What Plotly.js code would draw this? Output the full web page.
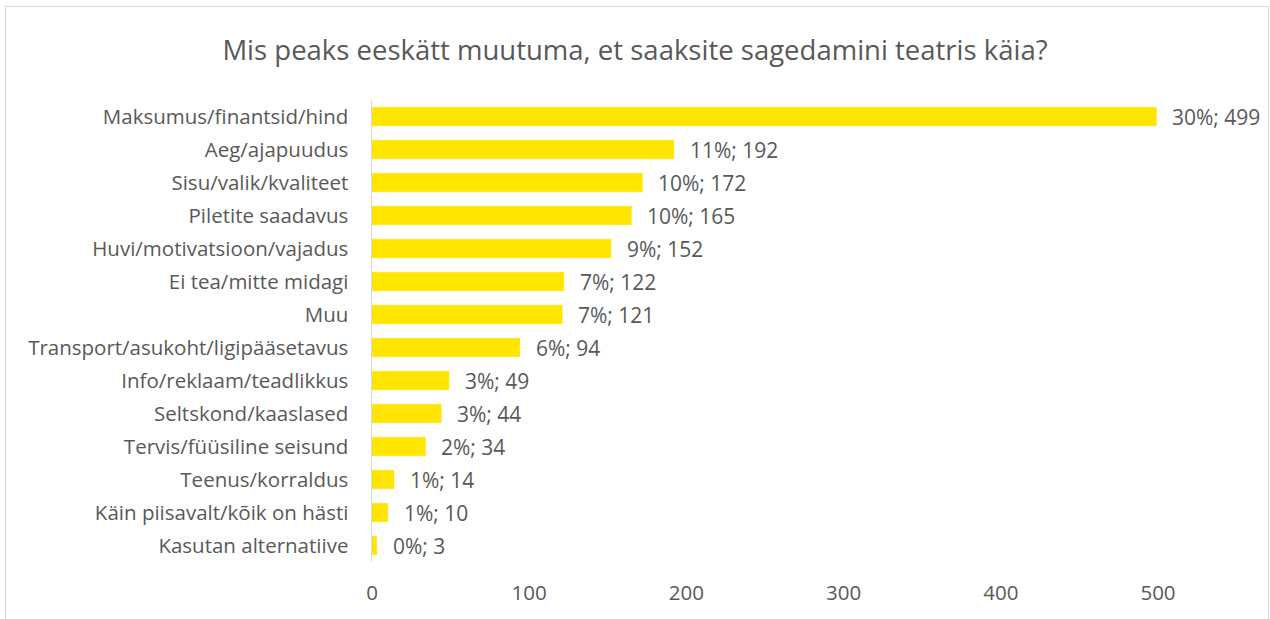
<!DOCTYPE html>
<html><head><meta charset="utf-8">
<script src="https://cdn.plot.ly/plotly-3.0.1.min.js"></script>
<style>
html,body{margin:0;padding:0;background:#fff;overflow:hidden;}
#wrap{position:relative;width:1270px;height:619px;}
#chart{width:1270px;height:619px;}
#frame{position:absolute;left:5px;top:6px;width:1262px;height:640px;border:1.5px solid #d9d9d9;pointer-events:none;}
</style></head>
<body>
<div id="wrap"><div id="chart"></div><div id="frame"></div></div>
<script>
const categories = ["Maksumus/finantsid/hind","Aeg/ajapuudus","Sisu/valik/kvaliteet","Piletite saadavus","Huvi/motivatsioon/vajadus","Ei tea/mitte midagi","Muu","Transport/asukoht/ligipääsetavus","Info/reklaam/teadlikkus","Seltskond/kaaslased","Tervis/füüsiline seisund","Teenus/korraldus","Käin piisavalt/kõik on hästi","Kasutan alternatiive"];
const values = [499,192,172,165,152,122,121,94,49,44,34,14,10,3];
const percents = ["30%","11%","10%","10%","9%","7%","7%","6%","3%","3%","2%","1%","1%","0%"];
const xTicks = [0,100,200,300,400,500];

const labels = values.map((v,i)=>percents[i]+"; "+v);
const gray = "#595959";
const fontFam = "Open Sans, sans-serif";

const trace = {
  type:"bar", orientation:"h",
  x: values, y: categories,
  marker:{color:"#FFE600", line:{color:"#FFE000", width:0.5}},
  hoverinfo:"none"
};
const annotations = values.map((v,i)=>({
  x:v, y:categories[i], xref:"x", yref:"y", text:labels[i], showarrow:false,
  xanchor:"left", xshift:14, font:{family:fontFam,size:21,color:gray}
}));
const layout = {
  width:1270, height:619,
  margin:{l:372, r:112, t:100, b:57},
  paper_bgcolor:"#fff", plot_bgcolor:"#fff",
  bargap:0.44,
  showlegend:false,
  title:{text:"Mis peaks eeskätt muutuma, et saaksite sagedamini teatris käia?",
    font:{family:fontFam,size:27.5,color:gray}, x:0.5, xanchor:"center", y:1-50/619, yanchor:"middle"},
  xaxis:{range:[0,500], tickvals:xTicks, showgrid:false, zeroline:false, showline:false,
    ticks:"", tickfont:{family:fontFam,size:20.5,color:gray}, ticklabelstandoff:16, fixedrange:true},
  yaxis:{categoryorder:"array", categoryarray:categories.slice().reverse(), autorange:false,
    range:[-0.5,13.5], showgrid:false, zeroline:false, showline:true, linecolor:"#d9d9d9", linewidth:1.5,
    ticks:"", ticklabelstandoff:18, tickfont:{family:fontFam,size:20.5,color:gray}},
  annotations: annotations,
  font:{family:fontFam,color:gray}
};
Plotly.newPlot("chart",[trace],layout,{staticPlot:true,displayModeBar:false});
</script>
</body></html>
